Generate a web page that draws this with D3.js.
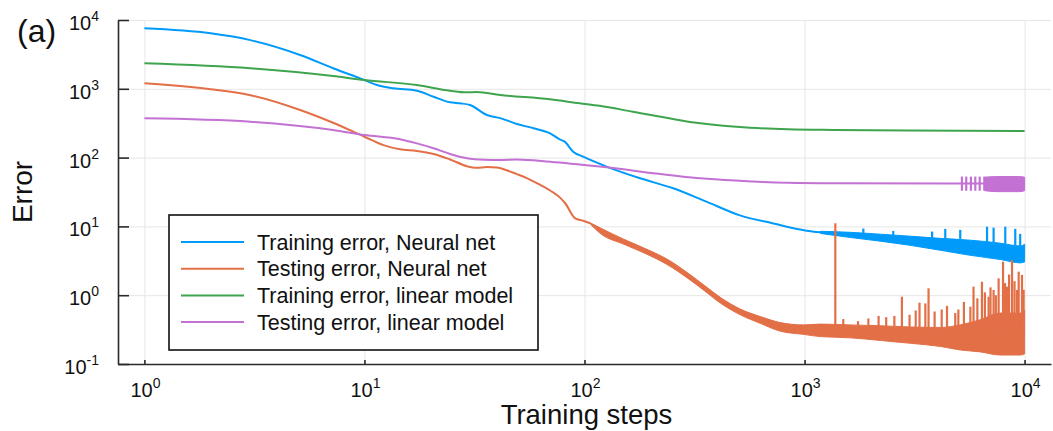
<!DOCTYPE html>
<html><head><meta charset="utf-8">
<script src="https://cdn.jsdelivr.net/npm/d3@7"></script>
<style>
html,body{margin:0;padding:0;background:#fff;}
svg{display:block;font-family:"Liberation Sans",Arial,Helvetica,sans-serif;}
</style></head><body>
<svg id="chart" width="1053" height="431"></svg>
<script>
// ---------- data ----------
const xTickExponents = [0, 1, 2, 3, 4];
const yTickExponents = [-1, 0, 1, 2, 3, 4];
const seriesNames = [
  "Training error, Neural net",
  "Testing error, Neural net",
  "Training error, linear model",
  "Testing error, linear model"
];
const seriesColors = ["#009AFA", "#E36F47", "#3EA44E", "#C371D2"];

// [step, error] along the smooth part of each curve
const nnTrainLine = [[1,7570],[2,6400],[3.03,5100],[5.1,3100],[7.2,1990],[10,1340],[11.4,1135],[13.5,1016],[17.3,938],[20.6,767],[24.5,637],[27.2,615],[30.2,581],[36,416],[41.4,375],[49.3,308],[58.7,267],[69.8,225],[77.6,182],[81,172],[88.8,122],[98.6,103],[126,74],[179,50],[253,35.8],[358,22.9],[505,14.6],[714,11.1],[1020,8.65],[1180,8.2]];
const nnTestLine = [[1,1200],[2,985],[3,813],[5.1,492],[7.2,321],[10,201],[12.2,152],[14.5,132],[17.3,125],[20.6,113],[24.5,94],[29.2,75],[32.4,71],[36,73],[40,72],[44,66],[49,58],[55,50],[63,40],[70,33],[77.6,26],[81.7,21.7],[90.7,13.1],[98.6,12.1],[106,11.1]];
const linTrainLine = [[1,2350],[3.03,1990],[7.2,1535],[10,1340],[17.3,1135],[24.5,938],[29.2,888],[32.4,897],[41.4,813],[69.8,703],[95,615],[117,565],[166,465],[336,315],[566,272],[842,258],[1350,252],[3000,248],[10000,244]];
const linTestLine = [[1,372],[3.03,333],[7.2,252],[10,213],[14.5,185],[17.3,161],[20.6,137],[24.5,113],[29.2,98],[35,93],[41.4,92],[49.3,94],[69.8,87],[117,74],[253,55],[336,50],[505,46],[842,43],[1350,42.3],[5100,42],[10000,42]];

// [step, low, high] envelope of the noisy late-training part
const nnTrainBand = [[1180,7.9,8.5],[1616,6.9,8.2],[2210,6.1,7.7],[3030,5.3,7.2],[4140,4.5,6.7],[5670,3.8,6.3],[7760,3.3,5.7],[9570,2.95,5.2],[10000,3.04,5.5]];
const nnTestBand = [[106,10.9,11.3],[118,7.9,9.5],[151,5.5,6.5],[192,3.95,4.65],[237,2.8,3.35],[292,1.8,2.15],[360,1.09,1.3],[414,0.77,0.93],[510,0.52,0.63],[629,0.39,0.49],[776,0.30,0.40],[986,0.27,0.37],[1180,0.25,0.38],[1616,0.24,0.37],[2210,0.22,0.36],[3030,0.20,0.345],[4140,0.18,0.34],[5100,0.16,0.37],[6290,0.15,0.44],[7760,0.135,0.55],[9570,0.135,0.55],[10000,0.14,0.61]];
const linTestBand = [[6600,33,52],[7500,32,53],[8500,32,53],[9500,32,53],[10000,33,52]];

// [step, low, high] isolated excursions
const nnTrainSpikes = [[1850,7.5,9.3],[2530,7.0,8.6],[3800,6.5,8.4],[4360,6.4,9.2],[5100,6.2,8.9],[6750,5.8,9.9],[7230,5.7,9.6],[8170,5.5,9.9],[9070,5.3,9.2],[9550,5.2,7.8]];
const nnTestSpikes = [[1380,0.3,11.1],[1500,0.3,0.45],[1750,0.3,0.42],[1950,0.3,0.46],[2170,0.3,0.50],[2350,0.3,0.48],[2560,0.3,0.50],[2770,0.3,0.95],[3000,0.3,0.52],[3200,0.3,0.6],[3330,0.3,0.78],[3540,0.3,0.76],[3660,0.3,1.26],[3900,0.3,0.58],[4200,0.3,0.62],[4440,0.3,0.70],[4840,0.3,0.55],[5000,0.3,0.62],[5300,0.3,0.8],[5670,0.3,0.68],[5860,0.3,1.33],[6100,0.3,0.9],[6400,0.3,1.57],[6600,0.3,1.1],[6860,0.3,0.95],[7000,0.3,1.3],[7230,0.3,1.19],[7400,0.3,1.0],[7620,0.3,1.76],[7980,0.3,3.07],[8150,0.3,1.5],[8320,0.3,1.33],[8500,0.3,2.0],[8770,0.3,3.25],[9000,0.3,1.6],[9230,0.3,1.19],[9400,0.3,2.2],[9730,0.3,1.97],[9900,0.3,1.2]];
const linTestSpikes = [[5190,33,53],[5430,33,53],[5700,33,53],[5970,33,53],[6250,33,53],[6560,33,53]];

const series = [
  {line: nnTrainLine,  band: nnTrainBand, spikes: nnTrainSpikes},
  {line: nnTestLine,   band: nnTestBand,  spikes: nnTestSpikes},
  {line: linTrainLine, band: [],          spikes: []},
  {line: linTestLine,  band: linTestBand, spikes: linTestSpikes}
];

// ---------- layout ----------
const plot = {left: 118, right: 1051, top: 20, bottom: 364};
const svg = d3.select("#chart");

const x = d3.scaleLog().domain([Math.pow(10, -0.12), Math.pow(10, 4.12)]).range([plot.left, plot.right]);
const y = d3.scaleLog().domain([0.1, 1e4]).range([plot.bottom, plot.top]);
const xTicks = xTickExponents.map(e => Math.pow(10, e));
const yTicks = yTickExponents.map(e => Math.pow(10, e));

// grid
svg.append("g")
  .attr("transform", `translate(0,${plot.bottom})`)
  .call(d3.axisBottom(x).tickValues(xTicks).tickSize(-(plot.bottom - plot.top)).tickSizeOuter(0).tickFormat(""))
  .call(g => g.select(".domain").remove())
  .call(g => g.selectAll("line").attr("stroke", "#e6e6e6").attr("stroke-width", 1));
svg.append("g")
  .attr("transform", `translate(${plot.left},0)`)
  .call(d3.axisLeft(y).tickValues(yTicks).tickSize(-(plot.right - plot.left)).tickSizeOuter(0).tickFormat(""))
  .call(g => g.select(".domain").remove())
  .call(g => g.selectAll("line").attr("stroke", "#e6e6e6").attr("stroke-width", 1));

// series
const line = d3.line().x(d => x(d[0])).y(d => y(d[1])).curve(d3.curveMonotoneX);
const band = d3.area().x(d => x(d[0])).y0(d => y(d[1])).y1(d => y(d[2])).curve(d3.curveMonotoneX);

series.forEach((s, i) => {
  const g = svg.append("g");
  const c = seriesColors[i];
  g.append("path").datum(s.line)
    .attr("d", line).attr("fill", "none").attr("stroke", c).attr("stroke-width", 2);
  if (s.band.length) {
    g.append("path").datum(s.band)
      .attr("d", band).attr("fill", c).attr("stroke", c).attr("stroke-width", 1);
  }
  g.selectAll("line.spike").data(s.spikes).join("line")
    .attr("class", "spike")
    .attr("x1", d => x(d[0])).attr("x2", d => x(d[0]))
    .attr("y1", d => y(d[1])).attr("y2", d => y(d[2]))
    .attr("stroke", c).attr("stroke-width", 2.2);
});

// axes
const axisColor = "#2a2a2a";
svg.append("g")
  .attr("transform", `translate(0,${plot.bottom})`)
  .call(d3.axisBottom(x).tickValues(xTicks).tickSize(-4).tickSizeOuter(0).tickFormat(""))
  .call(g => g.select(".domain").attr("stroke", axisColor).attr("stroke-width", 1.6))
  .call(g => g.selectAll(".tick line").attr("stroke", axisColor).attr("stroke-width", 1.6));
svg.append("g")
  .attr("transform", `translate(${plot.left},0)`)
  .call(d3.axisLeft(y).tickValues(yTicks).tickSize(-11).tickSizeOuter(0).tickFormat(""))
  .call(g => g.select(".domain").attr("stroke", axisColor).attr("stroke-width", 1.6))
  .call(g => g.selectAll(".tick line").attr("stroke", axisColor).attr("stroke-width", 1.6));

// power-of-ten tick labels
function powerLabel(sel, exp) {
  sel.append("tspan").text("10");
  sel.append("tspan").attr("dy", -9).attr("font-size", 14).text(exp);
}
yTickExponents.forEach(e => {
  svg.append("text")
    .attr("x", 99).attr("y", y(Math.pow(10, e)) + 10)
    .attr("text-anchor", "end").attr("font-size", 20).attr("fill", "#111")
    .call(t => powerLabel(t, e));
});
xTickExponents.forEach(e => {
  svg.append("text")
    .attr("x", x(Math.pow(10, e)) + 1).attr("y", 397)
    .attr("text-anchor", "middle").attr("font-size", 20).attr("fill", "#111")
    .call(t => powerLabel(t, e));
});

// titles
svg.append("text").attr("x", (plot.left + plot.right) / 2 + 2).attr("y", 424)
  .attr("text-anchor", "middle").attr("font-size", 27.5).attr("fill", "#111").text("Training steps");
svg.append("text").attr("transform", `translate(32,${(plot.top + plot.bottom) / 2}) rotate(-90)`)
  .attr("text-anchor", "middle").attr("font-size", 28).attr("fill", "#111").text("Error");
svg.append("text").attr("x", 17).attr("y", 42)
  .attr("font-size", 32).attr("fill", "#111").text("(a)");

// legend
const legend = svg.append("g");
legend.append("rect").attr("x", 169).attr("y", 215).attr("width", 369).attr("height", 135)
  .attr("fill", "#fff").attr("stroke", "#111").attr("stroke-width", 1.6);
seriesNames.forEach((name, i) => {
  const cy = 242 + i * 26.7;
  legend.append("line").attr("x1", 181).attr("x2", 244).attr("y1", cy).attr("y2", cy)
    .attr("stroke", seriesColors[i]).attr("stroke-width", 2);
  legend.append("text").attr("x", 257).attr("y", cy + 7.5)
    .attr("font-size", 21.5).attr("fill", "#111").text(name);
});
</script>
</body></html>
